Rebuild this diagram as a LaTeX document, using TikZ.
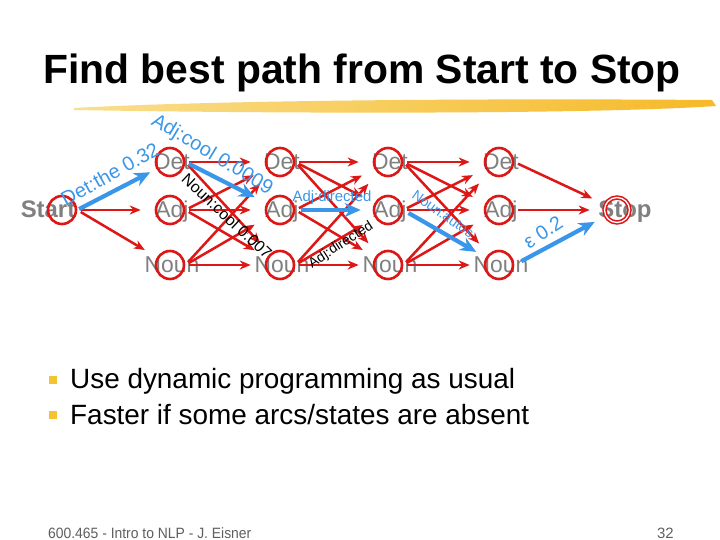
\documentclass[tikz,border=0pt]{standalone}
\usepackage{fontspec}
\setmainfont{Liberation Sans}
\usepackage{xcolor}
\usepackage{tikz}
\usetikzlibrary{arrows.meta}

\definecolor{rojoarco}{RGB}{221,22,22}
\definecolor{azulcamino}{RGB}{58,150,232}
\definecolor{grisestado}{RGB}{128,128,128}
\definecolor{grispie}{RGB}{95,95,95}
\definecolor{amarillo}{RGB}{244,196,48}

\begin{document}
\begin{tikzpicture}[x=1bp, y=-1bp,
  estado/.style={circle, draw=rojoarco, line width=2.6bp, minimum size=28bp,
                 inner sep=0pt},
  etq/.style={anchor=base, text=grisestado, inner sep=0pt,
              font=\fontsize{23}{26}\selectfont},
  extremo/.style={anchor=base, text=grisestado, inner sep=0pt,
                  font=\bfseries\fontsize{24}{28}\selectfont},
  arco/.style={draw=rojoarco, line width=2.5bp,
               -{Stealth[length=11bp,width=9bp]}, shorten <=4bp, shorten >=14bp},
  camino/.style={draw=azulcamino, line width=4.2bp,
                 -{Stealth[length=16bp,width=14bp]}},
  etqazul/.style={text=azulcamino, inner sep=0pt},
  etqnegra/.style={text=black, inner sep=0pt},
  vineta/.style={fill=amarillo, minimum size=8bp, inner sep=0pt},
]
  % Fondo y marco de la diapositiva
  \fill[white] (0,0) rectangle (720,540);
  \useasboundingbox (0,0) rectangle (720,540);

  % Titulo con trazo de pincel amarillo
  \node[anchor=base, font=\bfseries\fontsize{41}{48}\selectfont, inner sep=0pt]
    (titulo) at (362,84) {Find best path from Start to Stop};
  \shade[left color=amarillo!55!white, right color=amarillo!85!orange]
    (74,108) .. controls (200,101) and (450,98) .. (712,100)
    -- (716,106) .. controls (600,114) and (300,114) .. (74,110) -- cycle;

  % Textos de los estados (debajo de los circulos)
  \node[extremo] (tstart) at (48,218)  {Start};
  \node[extremo] (tstop)  at (625,218) {Stop};
  \node[etq] (tdet1)  at (172,170) {Det};
  \node[etq] (tadj1)  at (172,218) {Adj};
  \node[etq] (tnoun1) at (172,273) {Noun};
  \node[etq] (tdet2)  at (282,170) {Det};
  \node[etq] (tadj2)  at (282,218) {Adj};
  \node[etq] (tnoun2) at (282,273) {Noun};
  \node[etq] (tdet3)  at (390,170) {Det};
  \node[etq] (tadj3)  at (390,218) {Adj};
  \node[etq] (tnoun3) at (390,273) {Noun};
  \node[etq] (tdet4)  at (501,170) {Det};
  \node[etq] (tadj4)  at (501,218) {Adj};
  \node[etq] (tnoun4) at (501,273) {Noun};

  % Circulos rojos
  \node[estado] (start) at (62,210) {};
  \node[estado, line width=1.6bp, double=white, double distance=1.3bp,
        minimum size=25bp] (stop) at (617,210) {};
  \node[estado] (det1)  at (170,162) {};
  \node[estado] (adj1)  at (170,210) {};
  \node[estado] (noun1) at (170,265) {};
  \node[estado] (det2)  at (280,162) {};
  \node[estado] (adj2)  at (280,210) {};
  \node[estado] (noun2) at (280,265) {};
  \node[estado] (det3)  at (388,162) {};
  \node[estado] (adj3)  at (388,210) {};
  \node[estado] (noun3) at (388,265) {};
  \node[estado] (det4)  at (499,162) {};
  \node[estado] (adj4)  at (499,210) {};
  \node[estado] (noun4) at (499,265) {};

  % Arcos rojos del enrejado
  \draw[arco] (start.east) -- (adj1);  \draw[arco] (start.east) -- (noun1);
  \draw[arco] (det1.east) -- (det2);   \draw[arco] (det1.east) -- (noun2);
  \draw[arco] (adj1.east) -- (det2);   \draw[arco] (adj1.east) -- (adj2);   \draw[arco] (adj1.east) -- (noun2);
  \draw[arco] (noun1.east) -- (det2);  \draw[arco] (noun1.east) -- (adj2);  \draw[arco] (noun1.east) -- (noun2);
  \draw[arco] (det2.east) -- (det3);   \draw[arco] (det2.east) -- (adj3);   \draw[arco] (det2.east) -- (noun3);
  \draw[arco] (adj2.east) -- (det3);   \draw[arco] (adj2.east) -- (noun3);
  \draw[arco] (noun2.east) -- (det3);  \draw[arco] (noun2.east) -- (adj3);  \draw[arco] (noun2.east) -- (noun3);
  \draw[arco] (det3.east) -- (det4);   \draw[arco] (det3.east) -- (adj4);   \draw[arco] (det3.east) -- (noun4);
  \draw[arco] (adj3.east) -- (det4);   \draw[arco] (adj3.east) -- (adj4);
  \draw[arco] (noun3.east) -- (det4);  \draw[arco] (noun3.east) -- (adj4);  \draw[arco] (noun3.east) -- (noun4);
  \draw[arco] (det4.east) -- (stop);   \draw[arco] (adj4.east) -- (stop);

  % Mejor camino (azul)
  \draw[camino, shorten <=2bp, shorten >=7bp]  (start.east) -- (det1);
  \draw[camino, shorten <=4bp, shorten >=13bp] (det1.east)  -- (adj2);
  \draw[camino, shorten <=6bp, shorten >=12bp] (adj2.east)  -- (adj3);
  \draw[camino, shorten <=6bp, shorten >=11bp] (adj3.east)  -- (noun4);
  \draw[camino, shorten <=8bp, shorten >=12bp] (noun4.east) -- (stop);

  % Etiquetas de los arcos
  \node[etqazul, rotate=29, font=\fontsize{20}{24}\selectfont]
    (lblthe) at (110,174) {Det:the 0.32};
  \node[etqazul, rotate=-31, font=\fontsize{20}{24}\selectfont]
    (lblcool) at (212,155) {Adj:cool 0.0009};
  \node[etqnegra, rotate=-43, font=\fontsize{16}{19}\selectfont]
    (lblnouncool) at (227,216) {Noun:cool 0.007};
  \node[etqazul, anchor=base, font=\fontsize{15}{18}\selectfont]
    (lbldirazul) at (332,202) {Adj:directed};
  \node[etqnegra, rotate=33, font=\fontsize{14}{17}\selectfont]
    (lbldirnegra) at (341,245) {Adj:directed};
  \node[etqazul, rotate=-35, font=\fontsize{14}{17}\selectfont]
    (lblautos) at (443,214) {Noun:autos};
  \node[etqazul, rotate=33, font=\fontsize{20}{24}\selectfont]
    (lbleps) at (543,232) {ε 0.2};

  % Puntos de la lista
  \node[vineta] (v1) at (53,380) {};
  \node[vineta] (v2) at (53,415) {};
  \node[anchor=base west, inner sep=0pt, font=\fontsize{28}{32}\selectfont]
    (punto1) at (70,388) {Use dynamic programming as usual};
  \node[anchor=base west, inner sep=0pt, font=\fontsize{28}{32}\selectfont]
    (punto2) at (70,424) {Faster if some arcs/states are absent};

  % Pie de pagina
  \node[anchor=base west, inner sep=0pt, text=grispie, xscale=0.93,
        font=\fontsize{15}{18}\selectfont] (pie) at (48,538)
    {600.465 - Intro to NLP - J. Eisner};
  \node[anchor=base east, inner sep=0pt, text=grispie,
        font=\fontsize{15}{18}\selectfont] (pagina) at (674,538) {32};
\end{tikzpicture}
\end{document}
